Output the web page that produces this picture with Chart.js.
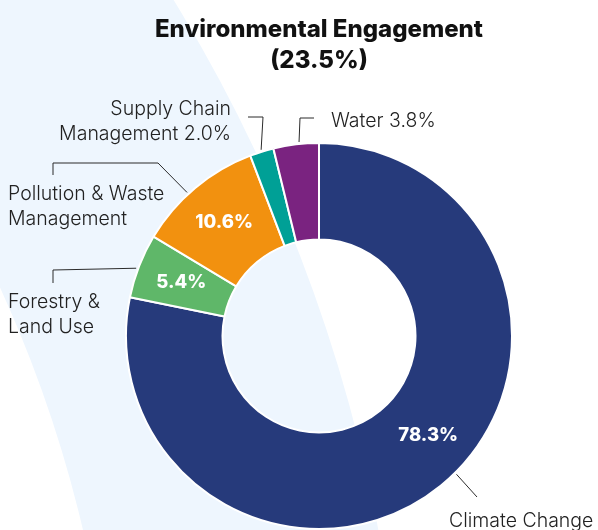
<!DOCTYPE html>
<html>
<head>
<meta charset="utf-8">
<script src="https://cdn.jsdelivr.net/npm/chart.js@4.4.1/dist/chart.umd.min.js"></script>
<style>
  html, body { margin: 0; padding: 0; background: #fff; }
  #wrap { width: 598px; height: 530px; }
</style>
</head>
<body>
<div id="wrap"><canvas id="myChart" width="598" height="530"></canvas></div>
<script>
// data
const titleLines = ['Environmental Engagement', '(23.5%)'];
const categories = ['Climate Change', 'Forestry & Land Use', 'Pollution & Waste Management', 'Supply Chain Management', 'Water'];
const shares = [78.3, 5.4, 10.6, 2.0, 3.8];
const nameLines = [['Climate Change'], ['Forestry &', 'Land Use'], ['Pollution & Waste', 'Management'], ['Supply Chain', 'Management'], ['Water']];
const valueInside = [true, true, true, false, false];
const sliceColors = ['#263a7b', '#5fb769', '#f2910f', '#00a096', '#7a2380'];

// where the outside labels and leader lines go
// anchor = fraction along the slice, legs = leader path after the anchor, text = first baseline
const labelLayout = [
  { frac: 0.48, legs: [[477, 497]], text: [449, 527], align: 'left' },
  { frac: 0.45, legs: [[53, 270], [53, 283]], text: [8, 308], align: 'left' },
  { frac: 0.43, legs: [[158, 163], [53, 163], [53, 175]], text: [8, 200], align: 'left' },
  { frac: 0.5, legs: [[263, 117], [248, 117]], text: [231, 115], align: 'right' },
  { frac: 0.57, legs: [[300, 118], [314, 118]], text: [331, 127], align: 'left' }
];
const insideFrac = [0.47, 0.5, 0.5, 0.5, 0.5];

const pct = v => v.toFixed(1) + '%';

// pale curved band behind the doughnut
const bandPlugin = {
  id: 'band',
  beforeDraw(chart) {
    const ctx = chart.ctx;
    ctx.save();
    ctx.fillStyle = '#eef6fe';
    ctx.beginPath();
    ctx.arc(-1171, 824, 1577, 0, Math.PI * 2);
    ctx.arc(-1171, 824, 1288, 0, Math.PI * 2, true);
    ctx.fill();
    ctx.restore();
  }
};

const labelPlugin = {
  id: 'sliceLabels',
  afterDatasetsDraw(chart) {
    const ctx = chart.ctx;
    const arcs = chart.getDatasetMeta(0).data;
    ctx.save();
    arcs.forEach((arc, i) => {
      const p = arc.getProps(['x', 'y', 'startAngle', 'endAngle', 'innerRadius', 'outerRadius'], true);

      // value inside the slice
      if (valueInside[i]) {
        const a = p.startAngle + (p.endAngle - p.startAngle) * insideFrac[i];
        const r = (p.innerRadius + p.outerRadius) / 2 + 3;
        ctx.fillStyle = '#fff';
        ctx.font = '800 18.5px Inter, "Open Sans", sans-serif';
        ctx.textAlign = 'center';
        ctx.textBaseline = 'middle';
        ctx.fillText(pct(shares[i]), p.x + Math.cos(a) * r, p.y + Math.sin(a) * r);
      }

      // leader line
      const lay = labelLayout[i];
      const a = p.startAngle + (p.endAngle - p.startAngle) * lay.frac;
      const r0 = p.outerRadius + 2;
      ctx.strokeStyle = '#2b2b2b';
      ctx.lineWidth = 1;
      ctx.beginPath();
      ctx.moveTo(p.x + Math.cos(a) * r0, p.y + Math.sin(a) * r0);
      lay.legs.forEach(pt => ctx.lineTo(pt[0], pt[1]));
      ctx.stroke();

      // category name
      const lines = nameLines[i].slice();
      if (!valueInside[i]) lines[lines.length - 1] += ' ' + pct(shares[i]);
      ctx.fillStyle = '#222';
      ctx.font = '300 19.5px Inter, "Open Sans", sans-serif';
      ctx.textAlign = lay.align;
      ctx.textBaseline = 'alphabetic';
      lines.forEach((t, k) => ctx.fillText(t, lay.text[0], lay.text[1] + k * 25));
    });
    ctx.restore();
  }
};

const ctx = document.getElementById('myChart').getContext('2d');
const myChart = new Chart(ctx, {
  type: 'doughnut',
  data: {
    labels: categories,
    datasets: [{
      data: shares,
      backgroundColor: sliceColors,
      borderColor: '#fff',
      borderWidth: 2
    }]
  },
  options: {
    responsive: false,
    animation: false,
    cutout: '50%',
    layout: {
      padding: { left: 125, right: 85, top: 0, bottom: 0 }
    },
    plugins: {
      legend: { display: false },
      tooltip: { enabled: false },
      title: {
        display: true,
        text: titleLines,
        color: '#111',
        font: { family: 'Inter, "Open Sans", sans-serif', size: 24, weight: '800', lineHeight: 1.3 },
        padding: { top: 14, bottom: 65.6 }
      }
    }
  },
  plugins: [bandPlugin, labelPlugin]
});
</script>
</body>
</html>
